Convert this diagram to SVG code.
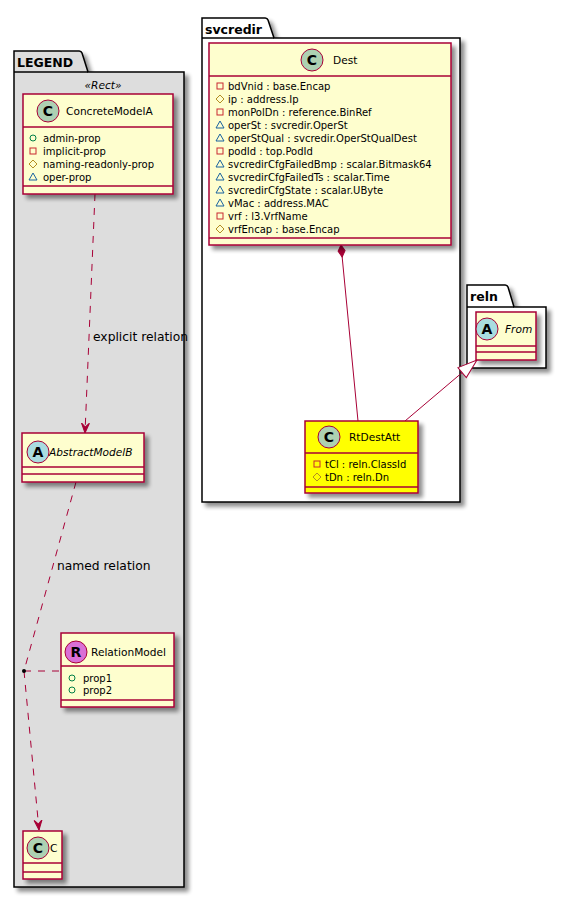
<svg xmlns="http://www.w3.org/2000/svg" width="566" height="898" viewBox="0 0 566 898">
<defs>
<filter id="sh" x="-10%" y="-10%" width="130%" height="130%">
<feGaussianBlur in="SourceAlpha" stdDeviation="2" result="b"/>
<feOffset in="b" dx="4" dy="4" result="o"/>
<feComponentTransfer in="o" result="s"><feFuncA type="linear" slope="0.45"/></feComponentTransfer>
<feMerge><feMergeNode in="s"/><feMergeNode in="SourceGraphic"/></feMerge>
</filter>
<marker id="dep" viewBox="0 0 10 10" refX="10" refY="5" markerWidth="10" markerHeight="10" markerUnits="userSpaceOnUse" orient="auto">
<path d="M0,1 L10,5 L0,9 L4,5 Z" fill="#A80036" stroke="#A80036" stroke-width="1"/>
</marker>
<marker id="comp" viewBox="0 0 14 10" refX="1" refY="5" markerWidth="14" markerHeight="10" markerUnits="userSpaceOnUse" orient="auto">
<path d="M1,5 L7,1.5 L13,5 L7,8.5 Z" fill="#A80036" stroke="#A80036" stroke-width="1"/>
</marker>
<marker id="gen" viewBox="0 0 22 16" refX="20.5" refY="8" markerWidth="22" markerHeight="16" markerUnits="userSpaceOnUse" orient="auto">
<path d="M1,1.5 L20.5,8 L1,14.5 Z" fill="#FFFFFF" stroke="#A80036" stroke-width="1"/>
</marker>
</defs>
<style>
text{font-family:"DejaVu Sans","Liberation Sans",sans-serif;fill:#000}
.pkg{stroke:#000;stroke-width:1.5}
.pt{font-size:12.5px;font-weight:bold}
.cls{fill:#FEFECE;stroke:#A80036;stroke-width:1.5}
.sep{stroke:#A80036;stroke-width:1.5;fill:none}
.nm{font-size:10.6px}
.it{font-style:italic}
.at{font-size:10px}
.cir{stroke:#A80036;stroke-width:1}
.ltr{font-size:14px;font-weight:bold;text-anchor:middle}
.pri{fill:none;stroke:#C82930;stroke-width:1}
.pro{fill:none;stroke:#B38D22;stroke-width:1}
.pkgv{fill:none;stroke:#1963A0;stroke-width:1}
.pub{fill:none;stroke:#038048;stroke-width:1}
.ln{stroke:#A80036;stroke-width:1;fill:none}
.dash{stroke-dasharray:7,7}
.lbl{font-size:12.3px}
</style>

<!-- packages -->
<g id="pkg-legend" filter="url(#sh)">
<path class="pkg" fill="#DDDDDD" d="M14,51 L79,51 A3,3 0 0 1 82,53 L88,72 L184,72 L184,887 L14,887 Z"/>
<line class="pkg" x1="14" y1="72" x2="88" y2="72"/>
</g>
<text class="pt" x="17" y="67">LEGEND</text>
<g id="pkg-svcredir" filter="url(#sh)">
<path class="pkg" fill="#FFFFFF" d="M202,18 L265,18 A3,3 0 0 1 268,20 L274,38 L460,38 L460,502 L202,502 Z"/>
<line class="pkg" x1="202" y1="38" x2="274" y2="38"/>
</g>
<text class="pt" x="205" y="34">svcredir</text>
<g id="pkg-reln" filter="url(#sh)">
<path class="pkg" fill="#FFFFFF" d="M467,285 L505,285 A3,3 0 0 1 508,287 L514,307 L546,307 L546,368 L467,368 Z"/>
<line class="pkg" x1="467" y1="307" x2="514" y2="307"/>
</g>
<text class="pt" x="470" y="301">reln</text>

<!-- connectors -->
<g id="connectors">
<line class="ln dash" x1="95" y1="194" x2="85" y2="433" marker-end="url(#dep)"/>
<text class="lbl" x="93" y="341">explicit relation</text>
<line class="ln dash" x1="76" y1="482" x2="24" y2="671"/>
<line class="ln dash" x1="24" y1="671" x2="39" y2="830" marker-end="url(#dep)"/>
<line class="ln dash" x1="24" y1="671" x2="61" y2="671"/>
<circle cx="24" cy="671" r="2" fill="#000"/>
<text class="lbl" x="57" y="570">named relation</text>
<line class="ln" x1="341" y1="245" x2="358" y2="421" marker-start="url(#comp)"/>
<line class="ln" x1="405" y1="421" x2="477" y2="360" marker-end="url(#gen)"/>
</g>

<!-- ConcreteModelA -->
<g id="ConcreteModelA">
<text class="nm it" x="103" y="89" text-anchor="middle">«Rect»</text>
<rect class="cls" x="23" y="94" width="150" height="100" filter="url(#sh)"/>
<line class="sep" x1="23" y1="127" x2="173" y2="127"/>
<line class="sep" x1="23" y1="186" x2="173" y2="186"/>
<circle class="cir" cx="48" cy="111" r="11" fill="#ADD1B2"/>
<text class="ltr" x="48" y="116">C</text>
<text class="nm" x="66" y="115">ConcreteModelA</text>
<circle class="pub" cx="33" cy="138" r="3"/>
<text class="at" x="43" y="142">admin-prop</text>
<rect class="pri" x="30" y="148" width="6" height="6"/>
<text class="at" x="43" y="155">implicit-prop</text>
<path class="pro" d="M33,160 L37,164 L33,168 L29,164 Z"/>
<text class="at" x="43" y="168">naming-readonly-prop</text>
<path class="pkgv" d="M33,173 L37,180 L29,180 Z"/>
<text class="at" x="43" y="181">oper-prop</text>
</g>

<!-- AbstractModelB -->
<g id="AbstractModelB">
<rect class="cls" x="22" y="433" width="122" height="49" filter="url(#sh)"/>
<line class="sep" x1="22" y1="467" x2="144" y2="467"/>
<line class="sep" x1="22" y1="474" x2="144" y2="474"/>
<circle class="cir" cx="38" cy="452" r="11" fill="#A9DCDF"/>
<text class="ltr" x="38" y="457">A</text>
<text class="nm it" x="49" y="456">AbstractModelB</text>
</g>

<!-- RelationModel -->
<g id="RelationModel">
<rect class="cls" x="61" y="633" width="113" height="74" filter="url(#sh)"/>
<line class="sep" x1="61" y1="666" x2="174" y2="666"/>
<line class="sep" x1="61" y1="700" x2="174" y2="700"/>
<circle class="cir" cx="76" cy="652" r="11" fill="#DA70D6"/>
<text class="ltr" x="76" y="657">R</text>
<text class="nm" x="91" y="656">RelationModel</text>
<circle class="pub" cx="72" cy="678" r="3"/>
<text class="at" x="83" y="682">prop1</text>
<circle class="pub" cx="72" cy="690" r="3"/>
<text class="at" x="83" y="694">prop2</text>
</g>

<!-- C -->
<g id="C">
<rect class="cls" x="23" y="831" width="39" height="48" filter="url(#sh)"/>
<line class="sep" x1="23" y1="863" x2="62" y2="863"/>
<line class="sep" x1="23" y1="872" x2="62" y2="872"/>
<circle class="cir" cx="38" cy="848" r="11" fill="#ADD1B2"/>
<text class="ltr" x="38" y="853">C</text>
<text class="nm" x="50" y="852">C</text>
</g>

<!-- Dest -->
<g id="Dest">
<rect class="cls" x="209" y="43" width="242" height="202" filter="url(#sh)"/>
<line class="sep" x1="209" y1="76" x2="451" y2="76"/>
<line class="sep" x1="209" y1="238" x2="451" y2="238"/>
<circle class="cir" cx="312" cy="60" r="11" fill="#ADD1B2"/>
<text class="ltr" x="312" y="65">C</text>
<text class="nm" x="333" y="64">Dest</text>
<rect class="pri" x="217" y="83" width="6" height="6"/>
<text class="at" x="228" y="90">bdVnid : base.Encap</text>
<path class="pro" d="M220,95 L224,99 L220,103 L216,99 Z"/>
<text class="at" x="228" y="103">ip : address.Ip</text>
<rect class="pri" x="217" y="109" width="6" height="6"/>
<text class="at" x="228" y="116">monPolDn : reference.BinRef</text>
<path class="pkgv" d="M220,121 L224,128 L216,128 Z"/>
<text class="at" x="228" y="129">operSt : svcredir.OperSt</text>
<path class="pkgv" d="M220,134 L224,141 L216,141 Z"/>
<text class="at" x="228" y="142">operStQual : svcredir.OperStQualDest</text>
<rect class="pri" x="217" y="148" width="6" height="6"/>
<text class="at" x="228" y="155">podId : top.PodId</text>
<path class="pkgv" d="M220,160 L224,167 L216,167 Z"/>
<text class="at" x="228" y="168">svcredirCfgFailedBmp : scalar.Bitmask64</text>
<path class="pkgv" d="M220,173 L224,180 L216,180 Z"/>
<text class="at" x="228" y="181">svcredirCfgFailedTs : scalar.Time</text>
<path class="pkgv" d="M220,186 L224,193 L216,193 Z"/>
<text class="at" x="228" y="194">svcredirCfgState : scalar.UByte</text>
<path class="pkgv" d="M220,199 L224,206 L216,206 Z"/>
<text class="at" x="228" y="207">vMac : address.MAC</text>
<rect class="pri" x="217" y="213" width="6" height="6"/>
<text class="at" x="228" y="220">vrf : l3.VrfName</text>
<path class="pro" d="M220,225 L224,229 L220,233 L216,229 Z"/>
<text class="at" x="228" y="233">vrfEncap : base.Encap</text>
</g>

<!-- RtDestAtt -->
<g id="RtDestAtt">
<rect x="305" y="421" width="113" height="72" fill="#FFFF00" stroke="#A80036" stroke-width="1.5" filter="url(#sh)"/>
<line class="sep" x1="305" y1="453" x2="418" y2="453"/>
<line class="sep" x1="305" y1="487" x2="418" y2="487"/>
<circle class="cir" cx="329" cy="437" r="11" fill="#ADD1B2"/>
<text class="ltr" x="329" y="442">C</text>
<text class="nm" x="349" y="441">RtDestAtt</text>
<rect class="pri" x="314" y="461" width="6" height="6"/>
<text class="at" x="325" y="468">tCl : reln.ClassId</text>
<path class="pro" d="M317,473 L321,477 L317,481 L313,477 Z"/>
<text class="at" x="325" y="481">tDn : reln.Dn</text>
</g>

<!-- From -->
<g id="From">
<rect class="cls" x="476" y="312" width="60" height="48" filter="url(#sh)"/>
<line class="sep" x1="476" y1="346" x2="536" y2="346"/>
<line class="sep" x1="476" y1="352" x2="536" y2="352"/>
<circle class="cir" cx="487" cy="329" r="11" fill="#A9DCDF"/>
<text class="ltr" x="487" y="334">A</text>
<text class="nm it" x="505" y="333">From</text>
</g>
</svg>
